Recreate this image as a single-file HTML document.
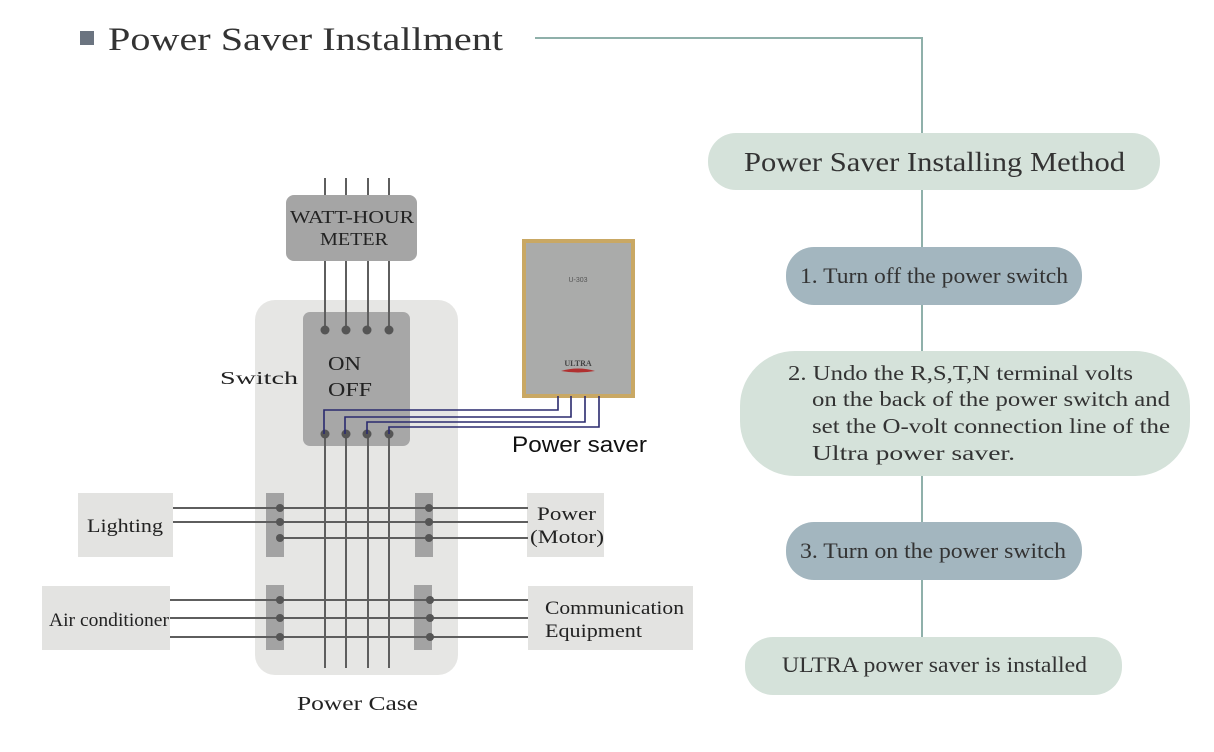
<!DOCTYPE html>
<html><head><meta charset="utf-8"><style>
html,body{margin:0;padding:0;background:#fff;}
svg{display:block;}
.s{font-family:"Liberation Serif",serif;}
</style></head><body>
<svg width="1214" height="752" viewBox="0 0 1214 752" xmlns="http://www.w3.org/2000/svg">
<rect x="80" y="31" width="14" height="14" fill="#6b7480"/>
<text x="108" y="50" class="s" font-size="33" fill="#333" textLength="395" lengthAdjust="spacingAndGlyphs">Power Saver Installment</text>
<polyline points="535,38 922,38 922,640" fill="none" stroke="#8fb0aa" stroke-width="2"/>
<rect x="708" y="133" width="452" height="57" rx="28" fill="#d5e2da"/>
<text x="744" y="171" class="s" font-size="27" fill="#333" textLength="381" lengthAdjust="spacingAndGlyphs">Power Saver Installing Method</text>
<rect x="786" y="247" width="296" height="58" rx="28" fill="#a3b6bf"/>
<text x="800" y="283" class="s" font-size="22" fill="#333" textLength="268" lengthAdjust="spacingAndGlyphs">1. Turn off the power switch</text>
<rect x="740" y="351" width="450" height="125" rx="55" fill="#d5e2da"/>
<g class="s" font-size="21" fill="#333">
<text x="788" y="380" textLength="345" lengthAdjust="spacingAndGlyphs">2. Undo the R,S,T,N terminal volts</text>
<text x="812" y="406" textLength="358" lengthAdjust="spacingAndGlyphs">on the back of the power switch and</text>
<text x="812" y="433" textLength="358" lengthAdjust="spacingAndGlyphs">set the O-volt connection line of the</text>
<text x="812" y="460" textLength="203" lengthAdjust="spacingAndGlyphs">Ultra power saver.</text>
</g>
<rect x="786" y="522" width="296" height="58" rx="28" fill="#a3b6bf"/>
<text x="800" y="558" class="s" font-size="22" fill="#333" textLength="266" lengthAdjust="spacingAndGlyphs">3. Turn on the power switch</text>
<rect x="745" y="637" width="377" height="58" rx="28" fill="#d5e2da"/>
<text x="782" y="672" class="s" font-size="22" fill="#333" textLength="305" lengthAdjust="spacingAndGlyphs">ULTRA power saver is installed</text>

<rect x="255" y="300" width="203" height="375" rx="20" fill="#e6e6e4"/>
<rect x="286" y="195" width="131" height="66" rx="8" fill="#a5a5a5"/>
<text x="290" y="223" class="s" font-size="18" fill="#222" textLength="124" lengthAdjust="spacingAndGlyphs">WATT-HOUR</text>
<text x="320" y="245" class="s" font-size="18" fill="#222" textLength="68" lengthAdjust="spacingAndGlyphs">METER</text>
<rect x="303" y="312" width="107" height="134" rx="7" fill="#a7a7a7"/>
<g stroke="#5e5e5e" stroke-width="2">
<line x1="325" y1="178" x2="325" y2="195"/><line x1="346" y1="178" x2="346" y2="195"/><line x1="368" y1="178" x2="368" y2="195"/><line x1="389" y1="178" x2="389" y2="195"/>
<line x1="325" y1="261" x2="325" y2="330"/><line x1="346" y1="261" x2="346" y2="330"/><line x1="368" y1="261" x2="368" y2="330"/><line x1="389" y1="261" x2="389" y2="330"/>
<line x1="325" y1="433" x2="325" y2="668"/><line x1="346" y1="433" x2="346" y2="668"/><line x1="368" y1="433" x2="368" y2="668"/><line x1="389" y1="433" x2="389" y2="668"/>
</g>
<g fill="#555">
<circle cx="325" cy="330" r="4.5"/><circle cx="346" cy="330" r="4.5"/><circle cx="367" cy="330" r="4.5"/><circle cx="389" cy="330" r="4.5"/>
<circle cx="325" cy="434" r="4.5"/><circle cx="346" cy="434" r="4.5"/><circle cx="367" cy="434" r="4.5"/><circle cx="389" cy="434" r="4.5"/>
</g>
<text x="328" y="370" class="s" font-size="20" fill="#222" textLength="33" lengthAdjust="spacingAndGlyphs">ON</text>
<text x="328" y="396" class="s" font-size="20" fill="#222" textLength="44" lengthAdjust="spacingAndGlyphs">OFF</text>
<text x="220" y="384" class="s" font-size="18" fill="#222" textLength="78" lengthAdjust="spacingAndGlyphs">Switch</text>
<rect x="524" y="241" width="109" height="155" fill="#aaabaa" stroke="#c9a864" stroke-width="4"/>
<text x="578" y="282" text-anchor="middle" font-family="Liberation Sans,sans-serif" font-size="7" fill="#555">U-303</text>
<text x="578" y="366" text-anchor="middle" class="s" font-size="8" font-weight="bold" fill="#444">ULTRA</text>
<path d="M561 371 Q578 366 595 371 Q578 374 561 371Z" fill="#b03030"/>
<g fill="none" stroke="#2a2a6e" stroke-width="1.6">
<polyline points="558,396 558,410 324,410 324,434"/>
<polyline points="571,396 571,417 345,417 345,434"/>
<polyline points="585,396 585,422 367,422 367,434"/>
<polyline points="599,396 599,427 389,427 389,434"/>
</g>
<text x="512" y="452" font-family="Liberation Sans,sans-serif" font-size="22" fill="#111" textLength="135" lengthAdjust="spacingAndGlyphs">Power saver</text>

<rect x="78" y="493" width="95" height="64" fill="#e3e3e1"/>
<text x="87" y="532" class="s" font-size="19" fill="#222" textLength="76" lengthAdjust="spacingAndGlyphs">Lighting</text>
<rect x="527" y="493" width="77" height="64" fill="#e3e3e1"/>
<text x="537" y="520" class="s" font-size="19" fill="#222" textLength="59" lengthAdjust="spacingAndGlyphs">Power</text>
<text x="530" y="543" class="s" font-size="19" fill="#222" textLength="74" lengthAdjust="spacingAndGlyphs">(Motor)</text>
<rect x="42" y="586" width="128" height="64" fill="#e3e3e1"/>
<text x="49" y="626" class="s" font-size="19" fill="#222" textLength="120" lengthAdjust="spacingAndGlyphs">Air conditioner</text>
<rect x="528" y="586" width="165" height="64" fill="#e3e3e1"/>
<text x="545" y="614" class="s" font-size="19" fill="#222" textLength="139" lengthAdjust="spacingAndGlyphs">Communication</text>
<text x="545" y="637" class="s" font-size="19" fill="#222" textLength="97" lengthAdjust="spacingAndGlyphs">Equipment</text>
<g fill="#a3a3a3">
<rect x="266" y="493" width="18" height="64"/><rect x="415" y="493" width="18" height="64"/>
<rect x="266" y="585" width="18" height="65"/><rect x="414" y="585" width="18" height="65"/>
</g>
<g stroke="#5e5e5e" stroke-width="2">
<line x1="173" y1="508" x2="528" y2="508"/><line x1="173" y1="522" x2="528" y2="522"/><line x1="280" y1="538" x2="528" y2="538"/>
<line x1="170" y1="600" x2="528" y2="600"/><line x1="170" y1="618" x2="528" y2="618"/><line x1="170" y1="637" x2="528" y2="637"/>
</g>
<g fill="#555">
<circle cx="280" cy="508" r="4"/><circle cx="280" cy="522" r="4"/><circle cx="280" cy="538" r="4"/>
<circle cx="429" cy="508" r="4"/><circle cx="429" cy="522" r="4"/><circle cx="429" cy="538" r="4"/>
<circle cx="280" cy="600" r="4"/><circle cx="280" cy="618" r="4"/><circle cx="280" cy="637" r="4"/>
<circle cx="430" cy="600" r="4"/><circle cx="430" cy="618" r="4"/><circle cx="430" cy="637" r="4"/>
</g>
<text x="297" y="710" class="s" font-size="20" fill="#222" textLength="121" lengthAdjust="spacingAndGlyphs">Power Case</text>
</svg>
</body></html>
